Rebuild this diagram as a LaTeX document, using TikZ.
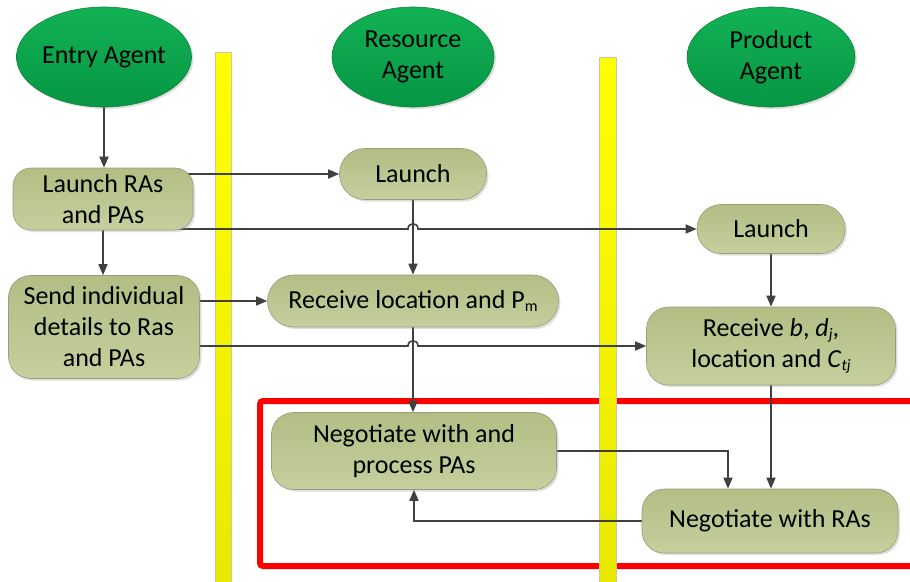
\documentclass[tikz,border=0pt]{standalone}
\usepackage{fontspec}
\setmainfont{Carlito}
\usetikzlibrary{arrows.meta,shadows,shapes.geometric,calc}
\pgfdeclarelayer{bg}
\pgfdeclarelayer{edges}
\pgfsetlayers{bg,edges,main}
\newcommand{\mysub}[1]{\raisebox{-2.5pt}{\fontsize{16}{16}\selectfont #1}}
\definecolor{agtop}{RGB}{18,178,84}
\definecolor{agbot}{RGB}{6,150,68}
\definecolor{agline}{RGB}{20,130,60}
\definecolor{bxtop}{RGB}{178,190,132}
\definecolor{bxbot}{RGB}{198,207,158}
\definecolor{bxline}{RGB}{150,158,125}
\definecolor{conncol}{RGB}{64,64,64}
\definecolor{ylw}{RGB}{255,255,0}
\definecolor{ylwb}{RGB}{232,232,0}
\begin{document}
\begin{tikzpicture}[x=1pt,y=-1pt,
  font=\fontsize{26}{31}\selectfont,
  agent/.style={ellipse, draw=agline, line width=0.6pt, top color=agtop, bottom color=agbot,
    minimum width=168pt, minimum height=100pt, inner sep=0pt, align=center,
    drop shadow={opacity=0.25, shadow xshift=2pt, shadow yshift=-2pt}},
  box/.style={draw=bxline, line width=0.6pt, top color=bxtop, bottom color=bxbot,
    align=center, inner sep=0pt,
    drop shadow={opacity=0.25, shadow xshift=2pt, shadow yshift=-2pt}},
  conn/.style={draw=conncol, line width=1.6pt, -{Triangle[length=11pt,width=9pt]}},
  bar/.style={draw={rgb,255:red,200;green,200;blue,170}, line width=0.5pt, top color=ylw, bottom color=ylwb},
  frame/.style={draw=red, line width=6pt, rounded corners=3pt}]
\useasboundingbox (0,0) rectangle (910,581);

% nodes
\node[agent] (entry) at (104,57) {Entry Agent};
\node[agent, minimum width=162pt] (res) at (413,57) {Resource\\Agent};
\node[agent] (prod) at (771,57) {Product\\Agent};

\node[box, minimum width=180pt, minimum height=62pt, rounded corners=18pt] (lra) at (103,199) {Launch RAs\\and PAs};
\node[box, minimum width=147pt, minimum height=51pt, rounded corners=25pt] (rl) at (413,174) {Launch};
\node[box, minimum width=148pt, minimum height=49pt, rounded corners=24pt] (pl) at (771,229) {Launch};
\node[box, minimum width=191pt, minimum height=103pt, rounded corners=22pt] (send) at (104,327) {Send individual\\details to Ras\\and PAs};
\node[box, minimum width=291pt, minimum height=52pt, rounded corners=26pt] (rloc) at (413,301) {Receive location and P\mysub{m}};
\node[box, minimum width=249pt, minimum height=78pt, rounded corners=22pt] (rb) at (771,346) {Receive \textit{b}, \textit{d}\mysub{\textit{j}},\\location and \textit{C}\mysub{\textit{tj}}};
\node[box, minimum width=285pt, minimum height=77pt, rounded corners=22pt] (neg1) at (414,451) {Negotiate with and\\process PAs};
\node[box, minimum width=256pt, minimum height=64pt, rounded corners=22pt] (neg2) at (770,521) {Negotiate with RAs};

\coordinate (j1) at (rl.south |- pl.west);
\coordinate (j2) at (rloc.south |- rb.west);

\begin{pgfonlayer}{bg}
  \draw[frame] (260,401) rectangle (930,566);
  \draw[bar] (215,52) rectangle (231,595);
  \draw[bar] (599,57) rectangle (616,595);
\end{pgfonlayer}

\begin{pgfonlayer}{edges}
  \draw[conn] (entry.south) -- (entry.south |- lra.north);
  \draw[conn] (lra.center |- rl.west) -- (rl.west);
  \draw[conn] (lra.center |- pl.west) -- ([xshift=-5pt]j1)
     .. controls ([xshift=-5pt,yshift=7pt]j1) and ([xshift=5pt,yshift=7pt]j1) .. ([xshift=5pt]j1)
     -- (pl.west);
  \draw[conn] (lra.south) -- (lra.south |- send.north);
  \draw[conn] (rl.south) -- (rloc.north);
  \draw[conn] (pl.south) -- (rb.north);
  \draw[conn] (send.center |- rloc.west) -- (rloc.west);
  \draw[conn] (send.center |- rb.west) -- ([xshift=-5pt]j2)
     .. controls ([xshift=-5pt,yshift=7pt]j2) and ([xshift=5pt,yshift=7pt]j2) .. ([xshift=5pt]j2)
     -- (rb.west);
  \draw[conn] (rloc.south) -- (rloc.south |- neg1.north);
  \draw[conn] (rb.south) -- (rb.south |- neg2.north);
  \draw[conn] (neg1.center) -| ([xshift=-42pt]neg2.north);
  \draw[conn] (neg2.center) -| (neg1.south);
\end{pgfonlayer}
\end{tikzpicture}
\end{document}
